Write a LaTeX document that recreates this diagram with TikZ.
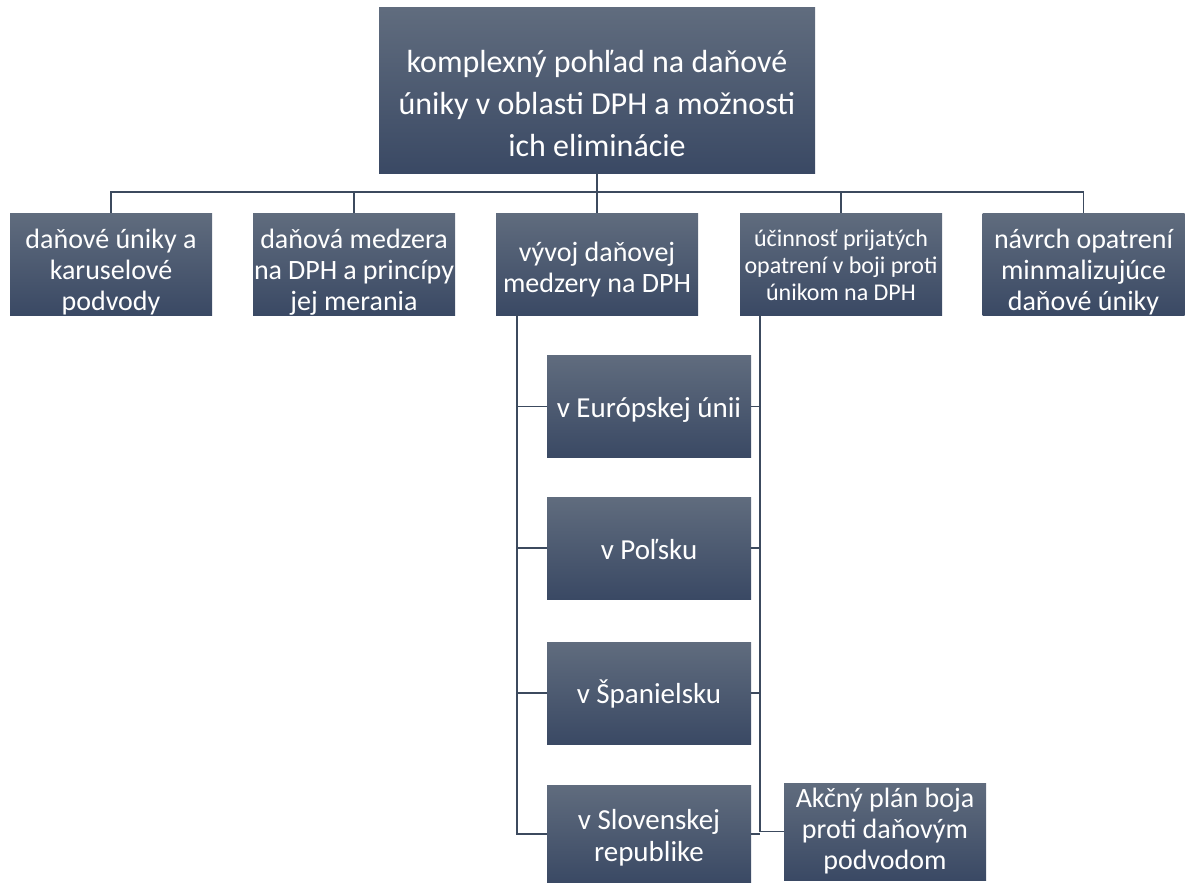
\documentclass[tikz,border=0pt]{standalone}
\usepackage{fontspec}
\setmainfont{Carlito}

\definecolor{boxtop}{HTML}{606C7E}
\definecolor{boxbot}{HTML}{3A4964}
\definecolor{linecol}{HTML}{3C4A5E}

\tikzset{
  box/.style={rectangle, inner sep=0pt, align=flush center, text=white,
    top color=boxtop, bottom color=boxbot,
    minimum width=202pt, minimum height=102pt, text width=200pt,
    font=\fontsize{28}{31}\selectfont},
  subbox/.style={box, minimum width=204pt, font=\fontsize{29}{32}\selectfont},
  lead/.style={execute at begin node={\rule{0pt}{#1}}},
  link/.style={draw=linecol, line width=1.3pt}
}

\begin{document}
\begin{tikzpicture}[x=1pt,y=-1pt]

  \useasboundingbox (0,0) rectangle (1186,883);

  % Top box
  \node[box, lead=48pt, minimum width=436pt, minimum height=165pt, text width=430pt,
        font=\fontsize{32}{42}\selectfont] (top) at (597,90.5)
        {komplexný pohľad na daňové\\ úniky v oblasti DPH a možnosti\\ ich eliminácie};

  % Second row
  \node[box, lead=35pt] (r1) at (111,264) {daňové úniky a\\ karuselové\\ podvody};
  \node[box, lead=35pt] (r2) at (354,264) {daňová medzera\\ na DPH a princípy\\ jej merania};
  \node[box, lead=30pt] (r3) at (597,264) {vývoj daňovej\\ medzery na DPH};
  \node[box, lead=20pt, font=\fontsize{24}{27}\selectfont] (r4) at (841,264)
        {účinnosť prijatých\\ opatrení v boji proti\\ únikom na DPH};
  \node[box, lead=35pt] (r5) at (1083.5,264) {návrch opatrení\\ minmalizujúce\\ daňové úniky};

  % Under vyvoj
  \node[subbox, lead=26pt] (s1) at (649,406.5) {v Európskej únii};
  \node[subbox, lead=24pt] (s2) at (649,548) {v Poľsku};
  \node[subbox, lead=26pt] (s3) at (649,693) {v Španielsku};
  \node[subbox, lead=28pt, minimum height=98pt] (s4) at (649,834)
        {v Slovenskej\\ republike};

  % Under ucinnost
  \node[box, minimum height=97pt] (act) at (885,831.5)
        {Akčný plán boja\\ proti daňovým\\ podvodom};

  % Connectors from top
  \coordinate (bus) at (597,192);
  \draw[link] (top.south) -- (bus);
  \draw[link] (r1.north) |- (bus) -| (r5.north);
  \foreach \n in {r2,r3,r4}
    \draw[link] (\n.north) -- (\n.north |- bus);

  % Left rail
  \coordinate (lt) at (517,315);
  \draw[link] (lt) |- (s4.west);
  \foreach \n in {s1,s2,s3}
    \draw[link] (\n.west) -- (\n.west -| lt);

  % Right rail
  \coordinate (rt) at (760,315);
  \draw[link] (rt) |- (act.west);
  \foreach \n in {s1,s2,s3,s4}
    \draw[link] (\n.east) -- (\n.east -| rt);

\end{tikzpicture}
\end{document}
